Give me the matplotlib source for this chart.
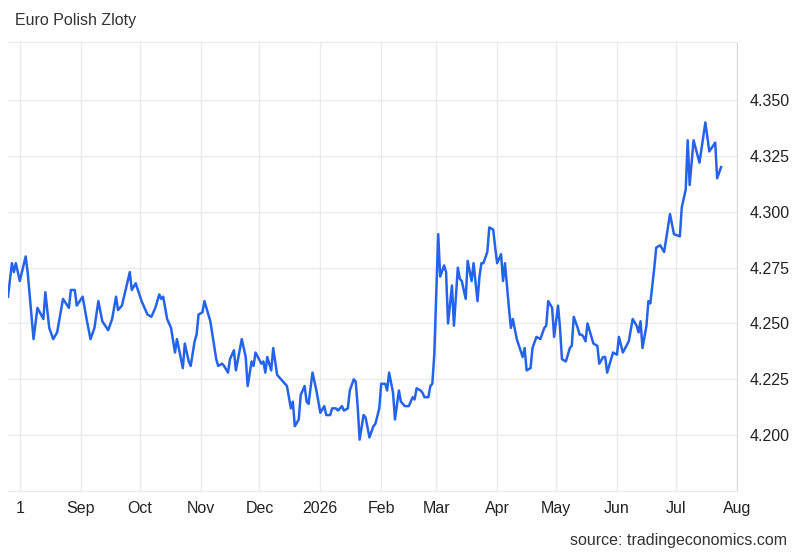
import matplotlib
matplotlib.use("Agg")
import matplotlib.pyplot as plt
import pandas as pd

# EUR/PLN daily close
dates = [
    "2025-07-26", "2025-07-28", "2025-07-29", "2025-07-30", "2025-08-01", "2025-08-04",
    "2025-08-05", "2025-08-08", "2025-08-10", "2025-08-13", "2025-08-14", "2025-08-16",
    "2025-08-18", "2025-08-20", "2025-08-23", "2025-08-26", "2025-08-27", "2025-08-29",
    "2025-08-30", "2025-09-02", "2025-09-04", "2025-09-06", "2025-09-08", "2025-09-10",
    "2025-09-12", "2025-09-15", "2025-09-17", "2025-09-19", "2025-09-20", "2025-09-22",
    "2025-09-26", "2025-09-27", "2025-09-29", "2025-10-02", "2025-10-05", "2025-10-07",
    "2025-10-09", "2025-10-11", "2025-10-12", "2025-10-13", "2025-10-15", "2025-10-17",
    "2025-10-19", "2025-10-20", "2025-10-23", "2025-10-24", "2025-10-26", "2025-10-27",
    "2025-10-29", "2025-10-30", "2025-10-31", "2025-11-02", "2025-11-03", "2025-11-06",
    "2025-11-09", "2025-11-10", "2025-11-12", "2025-11-13", "2025-11-15", "2025-11-16",
    "2025-11-18", "2025-11-19", "2025-11-22", "2025-11-24", "2025-11-25", "2025-11-27",
    "2025-11-28", "2025-11-29", "2025-12-02", "2025-12-03", "2025-12-04", "2025-12-05",
    "2025-12-07", "2025-12-08", "2025-12-10", "2025-12-12", "2025-12-13", "2025-12-15",
    "2025-12-17", "2025-12-18", "2025-12-19", "2025-12-21", "2025-12-22", "2025-12-24",
    "2025-12-25", "2025-12-26", "2025-12-28", "2025-12-30", "2026-01-01", "2026-01-03",
    "2026-01-04", "2026-01-06", "2026-01-07", "2026-01-09", "2026-01-10", "2026-01-12",
    "2026-01-13", "2026-01-15", "2026-01-16", "2026-01-18", "2026-01-19", "2026-01-20",
    "2026-01-21", "2026-01-23", "2026-01-24", "2026-01-26", "2026-01-28", "2026-01-29",
    "2026-01-31", "2026-02-01", "2026-02-03", "2026-02-04", "2026-02-05", "2026-02-07",
    "2026-02-08", "2026-02-10", "2026-02-11", "2026-02-13", "2026-02-15", "2026-02-16",
    "2026-02-17", "2026-02-18", "2026-02-19", "2026-02-21", "2026-02-22", "2026-02-23",
    "2026-02-25", "2026-02-26", "2026-02-27", "2026-02-28", "2026-03-02", "2026-03-03",
    "2026-03-05", "2026-03-06", "2026-03-07", "2026-03-09", "2026-03-10", "2026-03-12",
    "2026-03-13", "2026-03-14", "2026-03-16", "2026-03-17", "2026-03-19", "2026-03-20",
    "2026-03-22", "2026-03-23", "2026-03-24", "2026-03-25", "2026-03-27", "2026-03-28",
    "2026-03-30", "2026-03-31", "2026-04-01", "2026-04-03", "2026-04-04", "2026-04-05",
    "2026-04-07", "2026-04-08", "2026-04-09", "2026-04-11", "2026-04-14", "2026-04-15",
    "2026-04-16", "2026-04-18", "2026-04-19", "2026-04-21", "2026-04-23", "2026-04-25",
    "2026-04-26", "2026-04-27", "2026-04-29", "2026-04-30", "2026-05-02", "2026-05-03",
    "2026-05-04", "2026-05-06", "2026-05-08", "2026-05-09", "2026-05-10", "2026-05-12",
    "2026-05-13", "2026-05-14", "2026-05-15", "2026-05-16", "2026-05-17", "2026-05-18",
    "2026-05-20", "2026-05-22", "2026-05-23", "2026-05-25", "2026-05-26", "2026-05-27",
    "2026-05-30", "2026-06-01", "2026-06-02", "2026-06-04", "2026-06-07", "2026-06-09",
    "2026-06-11", "2026-06-12", "2026-06-13", "2026-06-14", "2026-06-16", "2026-06-17",
    "2026-06-18", "2026-06-20", "2026-06-21", "2026-06-23", "2026-06-25", "2026-06-28",
    "2026-06-30", "2026-07-03", "2026-07-04", "2026-07-06", "2026-07-07", "2026-07-08",
    "2026-07-10", "2026-07-13", "2026-07-16", "2026-07-18", "2026-07-21", "2026-07-22",
    "2026-07-24",
]
rates = [
    4.262, 4.277, 4.273, 4.277, 4.269, 4.280,
    4.273, 4.243, 4.257, 4.252, 4.264, 4.248,
    4.243, 4.246, 4.261, 4.257, 4.265, 4.265,
    4.258, 4.262, 4.252, 4.243, 4.248, 4.260,
    4.251, 4.247, 4.252, 4.262, 4.256, 4.258,
    4.273, 4.265, 4.268, 4.260, 4.254, 4.253,
    4.257, 4.263, 4.261, 4.262, 4.252, 4.248,
    4.237, 4.243, 4.230, 4.241, 4.233, 4.231,
    4.242, 4.245, 4.254, 4.255, 4.260, 4.251,
    4.234, 4.231, 4.232, 4.231, 4.228, 4.234,
    4.238, 4.229, 4.243, 4.235, 4.222, 4.233,
    4.231, 4.237, 4.232, 4.233, 4.228, 4.235,
    4.229, 4.239, 4.227, 4.225, 4.224, 4.222,
    4.212, 4.215, 4.204, 4.207, 4.218, 4.222,
    4.215, 4.214, 4.228, 4.220, 4.210, 4.213,
    4.209, 4.209, 4.212, 4.212, 4.211, 4.213,
    4.211, 4.212, 4.220, 4.225, 4.224, 4.213,
    4.198, 4.209, 4.208, 4.199, 4.204, 4.205,
    4.212, 4.223, 4.223, 4.220, 4.228, 4.219,
    4.207, 4.220, 4.215, 4.213, 4.213, 4.215,
    4.217, 4.216, 4.221, 4.220, 4.219, 4.217,
    4.217, 4.222, 4.223, 4.236, 4.290, 4.271,
    4.276, 4.273, 4.250, 4.267, 4.249, 4.275,
    4.270, 4.269, 4.261, 4.278, 4.269, 4.277,
    4.260, 4.271, 4.277, 4.277, 4.282, 4.293,
    4.292, 4.284, 4.277, 4.281, 4.269, 4.277,
    4.257, 4.248, 4.252, 4.243, 4.235, 4.239,
    4.229, 4.230, 4.239, 4.244, 4.243, 4.248,
    4.249, 4.260, 4.257, 4.244, 4.258, 4.248,
    4.234, 4.233, 4.239, 4.240, 4.253, 4.248,
    4.245, 4.245, 4.244, 4.242, 4.250, 4.247,
    4.241, 4.240, 4.232, 4.235, 4.235, 4.228,
    4.237, 4.236, 4.244, 4.237, 4.242, 4.252,
    4.249, 4.246, 4.251, 4.239, 4.249, 4.260,
    4.259, 4.275, 4.284, 4.285, 4.282, 4.299,
    4.290, 4.289, 4.302, 4.310, 4.332, 4.312,
    4.332, 4.322, 4.340, 4.327, 4.331, 4.315,
    4.320,
]

month_ticks = ["2025-08-01", "2025-09-01", "2025-10-01", "2025-11-01", "2025-12-01",
               "2026-01-01", "2026-02-01", "2026-03-01", "2026-04-01", "2026-05-01",
               "2026-06-01", "2026-07-01", "2026-08-01"]
month_labels = ["1", "Sep", "Oct", "Nov", "Dec", "2026", "Feb", "Mar", "Apr", "May",
                "Jun", "Jul", "Aug"]
y_ticks = [4.200, 4.225, 4.250, 4.275, 4.300, 4.325, 4.350]

plt.rcParams["font.family"] = ["Liberation Sans", "DejaVu Sans"]

x = pd.to_datetime(dates)
fig = plt.figure(figsize=(8, 5.55), dpi=100)
ax = fig.add_axes([0.01, 0.1153, 0.911, 0.8090])

ax.plot(x, rates, color="#2563eb", linewidth=1.8, solid_joinstyle="round")

ax.set_xlim(pd.Timestamp("2025-07-26"), pd.Timestamp("2026-08-01"))
ax.set_ylim(4.175, 4.376)

ax.set_xticks(pd.to_datetime(month_ticks))
ax.set_xticklabels(month_labels)
ax.set_yticks(y_ticks)
ax.set_yticklabels([f"{v:.3f}" for v in y_ticks])
ax.yaxis.tick_right()

ax.tick_params(axis="x", length=0, pad=7, labelsize=11.5, labelcolor="#222222")
ax.tick_params(axis="y", length=0, pad=9, labelsize=11.5, labelcolor="#222222")

ax.grid(True, color="#ebebeb", linewidth=1.0)
ax.set_axisbelow(True)
ax.spines["left"].set_visible(False)
ax.spines["top"].set_color("#ebebeb")
ax.spines["bottom"].set_color("#ebebeb")
ax.spines["right"].set_color("#d9d9d9")

fig.text(15 / 800, 1 - 20 / 555, "Euro Polish Zloty", fontsize=11.5, color="#333333",
         ha="left", va="center")
fig.text(787 / 800, 1 - 541 / 555, "source: tradingeconomics.com", fontsize=11.5,
         color="#333333", ha="right", va="center")

fig.savefig("out.png", dpi=100)
